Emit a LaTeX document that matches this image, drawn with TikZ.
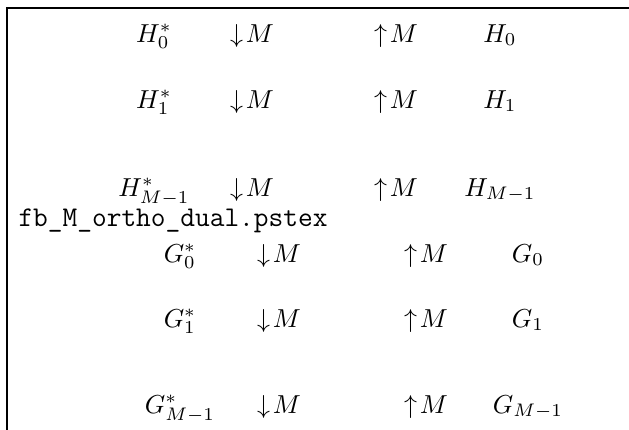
\documentclass[tikz,border=0pt]{standalone}
\begin{document}
\begin{tikzpicture}[x=0.385pt,y=-0.385pt,
  lbl/.style={anchor=base,inner sep=0pt,font=\fontsize{10}{12}\selectfont},
  fname/.style={anchor=base west,inner sep=0pt,font=\fontsize{11}{13}\selectfont\ttfamily},
  frame/.style={line width=0.9pt,line cap=rect}]
\useasboundingbox (0,0) rectangle (629,430);
\draw[frame] (7.2,430) -- (7.2,7.8) -- (629,7.8);
% analysis bank H
\node[lbl] (h0s) at (154,42) {$H_0^*$};
\node[lbl] (h0d) at (252,42) {$\downarrow\! M$};
\node[lbl] (h0u) at (396,42) {$\uparrow\! M$};
\node[lbl] (h0)  at (500,42) {$H_0$};
\node[lbl] (h1s) at (154,108) {$H_1^*$};
\node[lbl] (h1d) at (252,108) {$\downarrow\! M$};
\node[lbl] (h1u) at (396,108) {$\uparrow\! M$};
\node[lbl] (h1)  at (500,108) {$H_1$};
\node[lbl] (hms) at (154,196) {$H_{M-1}^*$};
\node[lbl] (hmd) at (252,196) {$\downarrow\! M$};
\node[lbl] (hmu) at (396,196) {$\uparrow\! M$};
\node[lbl] (hm)  at (500,196) {$H_{M-1}$};
% file name
\node[fname] (fn) at (18,226) {fb\_M\_ortho\_dual.pstex};
% bank G
\node[lbl] (g0s) at (180,262) {$G_0^*$};
\node[lbl] (g0d) at (279,262) {$\downarrow\! M$};
\node[lbl] (g0u) at (426,262) {$\uparrow\! M$};
\node[lbl] (g0)  at (528,262) {$G_0$};
\node[lbl] (g1s) at (180,327) {$G_1^*$};
\node[lbl] (g1d) at (279,327) {$\downarrow\! M$};
\node[lbl] (g1u) at (426,327) {$\uparrow\! M$};
\node[lbl] (g1)  at (528,327) {$G_1$};
\node[lbl] (gms) at (180,413) {$G_{M-1}^*$};
\node[lbl] (gmd) at (279,413) {$\downarrow\! M$};
\node[lbl] (gmu) at (426,413) {$\uparrow\! M$};
\node[lbl] (gm)  at (528,413) {$G_{M-1}$};
\end{tikzpicture}
\end{document}
